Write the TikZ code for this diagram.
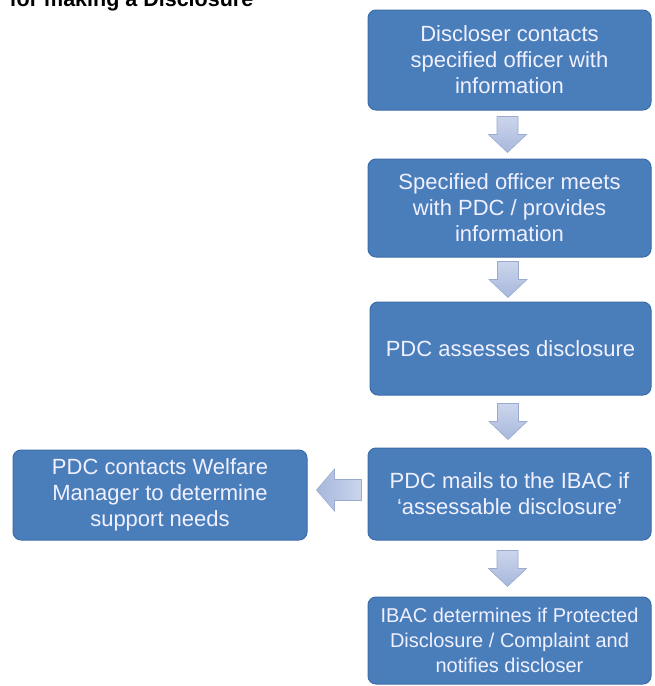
\documentclass[tikz,border=0pt]{standalone}
\usepackage{fontspec}
\setmainfont{Liberation Sans}
\usetikzlibrary{calc}

\definecolor{boxblue}{HTML}{4A7EBB}
\definecolor{boxline}{HTML}{3B6CA8}
\definecolor{arrowtop}{HTML}{CBD5EC}
\definecolor{arrowbot}{HTML}{A7B8DC}
\definecolor{arrowline}{HTML}{9AABCF}

% fat block arrow between two boxes, one above the other
\newcommand{\flowdown}[2]{%
  \path[flowarrow, top color=arrowtop, bottom color=arrowbot]
    let \p1 = ($(#1.south)!0.5!(#2.north)$) in
    (\x1-12.5pt,\y1+18pt) -- (\x1+8.5pt,\y1+18pt) -- (\x1+8.5pt,\y1)
    -- (\x1+17pt,\y1) -- (\x1-2pt,\y1-18pt) -- (\x1-21pt,\y1)
    -- (\x1-12.5pt,\y1) -- cycle;}
% fat block arrow pointing left
\newcommand{\flowleft}[2]{%
  \path[flowarrow, left color=arrowbot, right color=arrowtop]
    let \p1 = ($(#1.west)!0.5!(#2.east)$) in
    (\x1+24pt,\y1+15pt) -- (\x1-3pt,\y1+15pt) -- (\x1-3pt,\y1+25.5pt)
    -- (\x1-21pt,\y1+4.5pt) -- (\x1-3pt,\y1-16.5pt) -- (\x1-3pt,\y1-6pt)
    -- (\x1+24pt,\y1-6pt) -- cycle;}

\begin{document}
\begin{tikzpicture}[
  x=1pt, y=-1pt,
  stepbox/.style={draw=boxline, line width=1pt, fill=boxblue,
    rounded corners=8pt, text=white!94!blue, align=center,
    inner sep=0pt, font=\fontsize{22}{26}\selectfont},
  flowarrow/.style={draw=arrowline, line width=0.6pt}
]
  \useasboundingbox (0,0) rectangle (654,686);
  \clip (0,0) rectangle (654,686);

  \node[anchor=base west, font=\bfseries\fontsize{21.5}{24}\selectfont]
    (title) at (6,6) {for making a Disclosure};

  \node[stepbox, minimum width=283pt, minimum height=100pt] (contact) at (509.5,60)
    {Discloser contacts\\specified officer with\\information};
  \node[stepbox, minimum width=283pt, minimum height=98pt] (meets) at (509.5,208)
    {Specified officer meets\\with PDC / provides\\information};
  \node[stepbox, minimum width=281pt, minimum height=93pt] (assess) at (510.5,348.5)
    {PDC assesses disclosure};
  \node[stepbox, minimum width=283pt, minimum height=92pt] (mails) at (509.5,494)
    {PDC mails to the IBAC if\\`assessable disclosure'};
  \node[stepbox, minimum width=283pt, minimum height=87pt,
    font=\fontsize{20}{25}\selectfont] (ibac) at (509.5,640.5)
    {IBAC determines if Protected\\Disclosure / Complaint and\\notifies discloser};
  \node[stepbox, minimum width=294pt, minimum height=90pt] (welfare) at (160,495)
    {PDC contacts Welfare\\Manager to determine\\support needs};

  \flowdown{contact}{meets}
  \flowdown{meets}{assess}
  \flowdown{assess}{mails}
  \flowdown{mails}{ibac}
  \flowleft{mails}{welfare}
\end{tikzpicture}
\end{document}
